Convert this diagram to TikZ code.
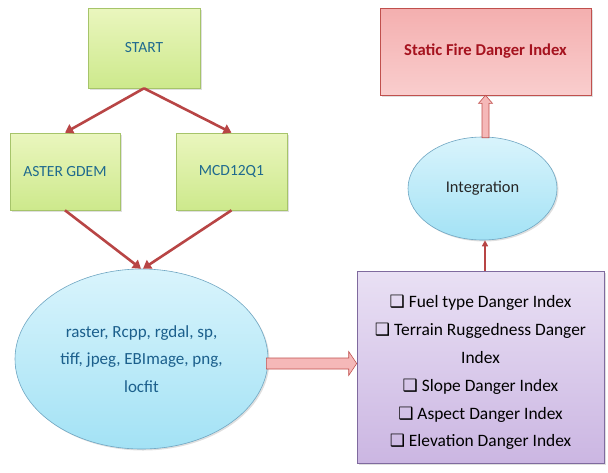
\documentclass[tikz,border=0pt]{standalone}
\usepackage{fontspec}
\setmainfont{Carlito}
\newfontfamily\symfont{DejaVu Sans}
\usetikzlibrary{shapes.geometric,shadows,calc,arrows.meta}
\definecolor{gtop}{HTML}{EAF6BE}
\definecolor{gbot}{HTML}{CDE98C}
\definecolor{gline}{HTML}{A6C46A}
\definecolor{gtext}{HTML}{1F6A8E}
\definecolor{ptop}{HTML}{F4AFAF}
\definecolor{pbot}{HTML}{F9CDCD}
\definecolor{pline}{HTML}{C0504D}
\definecolor{ptext}{HTML}{A5121E}
\definecolor{btop}{HTML}{D9F4FC}
\definecolor{bbot}{HTML}{A3E2F5}
\definecolor{bline}{HTML}{6FA6C2}
\definecolor{btext}{HTML}{1B5F8C}
\definecolor{vtop}{HTML}{E9E0F4}
\definecolor{vbot}{HTML}{CBB6E2}
\definecolor{vline}{HTML}{7F6A9E}
\definecolor{redarr}{HTML}{B84545}
\definecolor{hollowfill}{HTML}{F5B8B8}
\tikzset{
  shad/.style={drop shadow={opacity=0.25,shadow xshift=1.5pt,shadow yshift=-1.5pt}},
  greenbox/.style={rectangle,draw=gline,line width=0.6pt,top color=gtop,bottom color=gbot,
    text=gtext,font=\fontsize{15.5}{18}\selectfont,shad},
  pinkbox/.style={rectangle,draw=pline,line width=0.7pt,top color=ptop,bottom color=pbot,
    text=ptext,font=\bfseries\fontsize{16.6}{20}\selectfont,shad},
  blueell/.style={ellipse,draw=bline,line width=0.6pt,top color=btop,bottom color=bbot,
    inner sep=0pt,shad},
  purplebox/.style={rectangle,draw=vline,line width=0.6pt,top color=vtop,bottom color=vbot,shad},
  redarrow/.style={draw=redarr,line width=2.6pt,-{Triangle[length=8pt,width=10pt]}},
  thinred/.style={draw=redarr,line width=1.6pt,-{Triangle[length=6pt,width=6pt]}},
  hollow/.style={fill=hollowfill,draw=pline,line width=0.6pt}
}
\newcommand{\bx}{{\symfont\fontsize{17}{20}\selectfont ❑}\ }
\begin{document}
\begin{tikzpicture}[x=1pt,y=-1pt]
\useasboundingbox (0,0) rectangle (608,472);
\node[greenbox,minimum width=112pt,minimum height=80pt] (start) at (144,48) {START};
\node[greenbox,minimum width=110pt,minimum height=77pt] (aster) at (65,171.5) {ASTER GDEM};
\node[greenbox,minimum width=111pt,minimum height=77pt] (mcd) at (231.5,171.5) {MCD12Q1};
\node[blueell,minimum width=253pt,minimum height=180pt,align=center,text=btext,
  font=\fontsize{17}{27.6}\selectfont] (libs) at (141.5,359)
  {raster, Rcpp, rgdal, sp,\\tiff, jpeg, EBImage, png,\\locfit};
\node[pinkbox,minimum width=211pt,minimum height=87pt] (sfdi) at (485.5,51.5) {Static Fire Danger Index};
\node[blueell,minimum width=149pt,minimum height=103pt,text=black!85,
  font=\fontsize{16.4}{19}\selectfont] (integ) at (482.5,188.5) {Integration};
\node[purplebox,minimum width=247pt,minimum height=192pt] (idx) at (480.5,367) {};
\node[align=center,font=\fontsize{17.4}{27.9}\selectfont] (idxtext) at (480.5,372.5)
  {\bx Fuel type Danger Index\\\bx Terrain Ruggedness Danger\\Index\\\bx Slope Danger Index\\\bx Aspect Danger Index\\\bx Elevation Danger Index};
% red arrows
\draw[redarrow] (start.south) -- (aster.north);
\draw[redarrow] (start.south) -- (mcd.north);
\draw[redarrow] (aster.south) -- ($(libs.north)+(-0.5,0)$);
\draw[redarrow] (mcd.south) -- ($(libs.north)+(1.5,0)$);
\coordinate (itop) at (485,0);
\draw[thinred] (idx.north -| itop) -- (integ.south -| itop);
% hollow horizontal arrow
\coordinate (h1) at ($(libs.east)+(-2,4.5)$);
\coordinate (h2) at (idx.west |- h1);
\draw[hollow] ($(h1)+(0,-5.5)$) -- ($(h2)+(-8,-5.5)$) -- ($(h2)+(-8,-12)$) -- (h2)
  -- ($(h2)+(-8,12)$) -- ($(h2)+(-8,5.5)$) -- ($(h1)+(0,5.5)$) -- cycle;
% hollow vertical arrow
\coordinate (v1) at ($(integ.north)+(3,1)$);
\coordinate (v2) at (sfdi.south -| v1);
\draw[hollow] ($(v1)+(-3.5,0)$) -- ($(v2)+(-3.5,8)$) -- ($(v2)+(-7,8)$) -- (v2)
  -- ($(v2)+(7,8)$) -- ($(v2)+(3.5,8)$) -- ($(v1)+(3.5,0)$) -- cycle;
\end{tikzpicture}
\end{document}
